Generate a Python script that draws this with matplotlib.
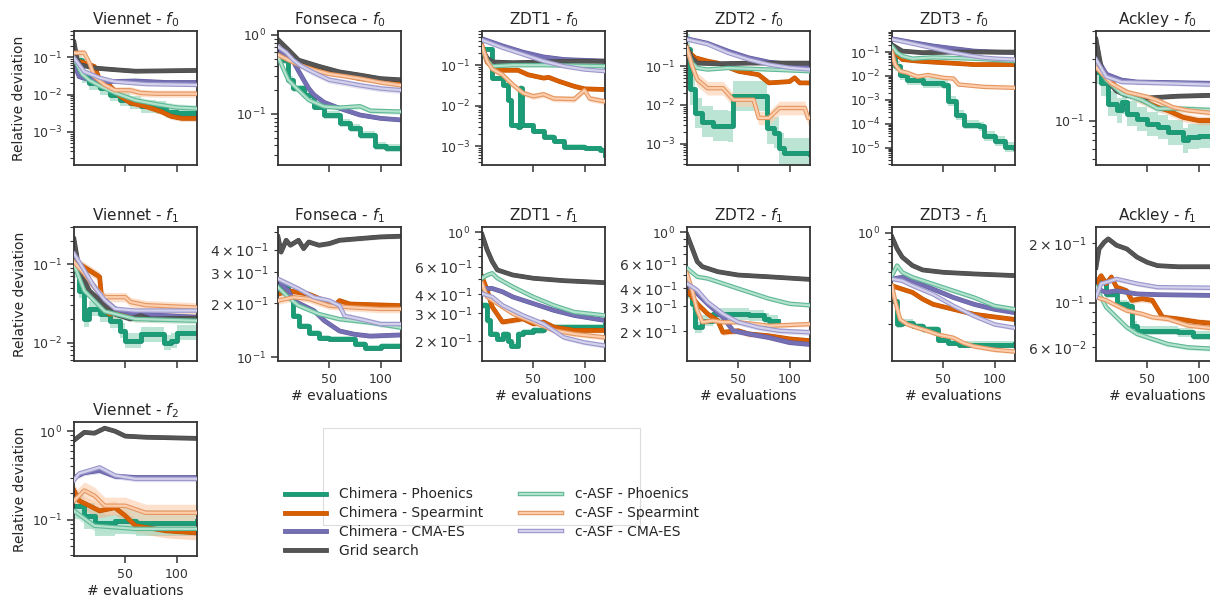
import matplotlib
matplotlib.use('Agg')
import matplotlib.pyplot as plt
import matplotlib.patheffects as pe
from matplotlib.patches import Rectangle

plt.rcParams['font.family'] = ['DejaVu Sans']
plt.rcParams['axes.edgecolor'] = '#333333'
plt.rcParams['axes.linewidth'] = 1.3
plt.rcParams['xtick.color'] = '#333333'
plt.rcParams['ytick.color'] = '#333333'
plt.rcParams['text.color'] = '#262626'
plt.rcParams['axes.labelcolor'] = '#262626'

# ---------------- data (best-so-far relative deviation vs evaluations) ----------------
keys = ['cp', 'cs', 'cc', 'gs', 'ap', 'as', 'ac']
labels = ['Chimera - Phoenics', 'Chimera - Spearmint', 'Chimera - CMA-ES', 'Grid search',
          'c-ASF - Phoenics', 'c-ASF - Spearmint', 'c-ASF - CMA-ES']

viennet_f0 = {
    'cp': ([0, 8, 15, 25, 35, 45, 55, 65, 80, 90, 100, 120], [0.085, 0.03, 0.02, 0.015, 0.01, 0.0072, 0.006, 0.0048, 0.0044, 0.0035, 0.0032, 0.0032]),
    'cs': ([0, 10, 20, 25, 35, 45, 55, 70, 85, 95, 105, 120], [0.085, 0.07, 0.056, 0.025, 0.017, 0.009, 0.006, 0.0048, 0.0035, 0.0026, 0.0023, 0.0023]),
    'cc': ([0, 5, 15, 30, 60, 90, 120], [0.07, 0.03, 0.025, 0.022, 0.023, 0.021, 0.021]),
    'gs': ([0, 3, 5, 20, 40, 60, 90, 120], [0.25, 0.09, 0.063, 0.051, 0.046, 0.042, 0.043, 0.044]),
    'ap': ([0, 8, 15, 25, 40, 60, 80, 100, 120], [0.09, 0.035, 0.024, 0.017, 0.011, 0.007, 0.0055, 0.0045, 0.0042]),
    'as': ([0, 10, 15, 20, 30, 40, 55, 65, 80, 120], [0.13, 0.13, 0.07, 0.03, 0.018, 0.013, 0.013, 0.011, 0.0105, 0.0105]),
    'ac': ([0, 10, 25, 40, 70, 120], [0.095, 0.041, 0.028, 0.022, 0.019, 0.018]),
}
fonseca_f0 = {
    'cp': ([0, 5, 10, 15, 25, 35, 45, 60, 70, 80, 95, 105, 120], [0.58, 0.48, 0.27, 0.21, 0.175, 0.124, 0.097, 0.076, 0.066, 0.054, 0.039, 0.037, 0.037]),
    'cs': ([0, 10, 20, 35, 50, 65, 80, 100, 120], [0.7, 0.52, 0.42, 0.37, 0.34, 0.31, 0.28, 0.26, 0.24]),
    'cc': ([0, 8, 15, 20, 25, 30, 35, 45, 60, 80, 100, 120], [0.65, 0.55, 0.46, 0.35, 0.27, 0.21, 0.175, 0.14, 0.118, 0.097, 0.088, 0.084]),
    'gs': ([0, 10, 20, 40, 60, 80, 100, 120], [0.87, 0.65, 0.48, 0.40, 0.34, 0.31, 0.28, 0.27]),
    'ap': ([0, 10, 20, 30, 45, 60, 80, 90, 120], [0.53, 0.27, 0.2, 0.15, 0.124, 0.12, 0.125, 0.11, 0.107]),
    'as': ([0, 10, 20, 35, 50, 65, 80, 100, 120], [0.56, 0.48, 0.42, 0.36, 0.32, 0.3, 0.28, 0.25, 0.23]),
    'ac': ([0, 8, 15, 22, 30, 40, 50, 65, 80, 100, 120], [0.71, 0.6, 0.48, 0.41, 0.36, 0.31, 0.27, 0.25, 0.23, 0.21, 0.2]),
}
zdt1_f0 = {
    'cp': ([0, 10, 20, 25, 28, 35, 37, 39, 50, 60, 70, 80, 100, 115, 120], [0.25, 0.048, 0.033, 0.014, 0.0033, 0.003, 0.028, 0.0033, 0.0023, 0.0017, 0.0013, 0.00096, 0.00088, 0.0008, 0.0006]),
    'cs': ([0, 5, 10, 20, 35, 45, 60, 65, 75, 90, 100, 120], [0.3, 0.12, 0.09, 0.075, 0.075, 0.058, 0.048, 0.05, 0.04, 0.03, 0.026, 0.025]),
    'cc': ([0, 20, 40, 60, 80, 120], [0.45, 0.30, 0.21, 0.16, 0.138, 0.126]),
    'gs': ([0, 5, 10, 30, 60, 90, 120], [0.25, 0.15, 0.12, 0.115, 0.12, 0.125, 0.125]),
    'ap': ([0, 5, 10, 30, 60, 90, 120], [0.25, 0.13, 0.094, 0.1, 0.1, 0.097, 0.094]),
    'as': ([0, 5, 10, 20, 30, 40, 50, 60, 70, 90, 100, 105, 120], [0.3, 0.125, 0.08, 0.058, 0.033, 0.0205, 0.017, 0.019, 0.015, 0.0145, 0.024, 0.015, 0.0127]),
    'ac': ([0, 20, 40, 60, 80, 100, 120], [0.42, 0.27, 0.185, 0.126, 0.094, 0.078, 0.071]),
}
zdt2_f0 = {
    'cp': ([0, 3, 8, 15, 25, 40, 45, 60, 75, 78, 85, 90, 95, 120], [0.27, 0.025, 0.0062, 0.0037, 0.0029, 0.0028, 0.017, 0.017, 0.017, 0.0025, 0.0019, 0.00076, 0.00056, 0.00055]),
    'cs': ([0, 8, 20, 30, 50, 70, 80, 100, 105, 110, 120], [0.25, 0.165, 0.135, 0.12, 0.074, 0.06, 0.037, 0.04, 0.05, 0.037, 0.037]),
    'cc': ([0, 20, 40, 60, 80, 120], [0.51, 0.39, 0.245, 0.165, 0.127, 0.1]),
    'gs': ([0, 5, 10, 30, 60, 120], [0.3, 0.16, 0.12, 0.115, 0.12, 0.12]),
    'ap': ([0, 5, 10, 20, 40, 80, 120], [0.27, 0.12, 0.09, 0.082, 0.09, 0.082, 0.074]),
    'as': ([0, 5, 10, 20, 35, 45, 65, 70, 80, 90, 115, 118, 120], [0.3, 0.1, 0.045, 0.027, 0.027, 0.0136, 0.0136, 0.0046, 0.0046, 0.0083, 0.0083, 0.0046, 0.0046]),
    'ac': ([0, 20, 40, 60, 80, 100, 120], [0.49, 0.37, 0.22, 0.149, 0.11, 0.091, 0.082]),
}
zdt3_f0 = {
    'cp': ([0, 3, 8, 15, 30, 50, 55, 62, 70, 85, 90, 100, 110, 120], [0.1, 0.026, 0.0105, 0.007, 0.0052, 0.0044, 0.00089, 0.00024, 0.000093, 0.000078, 0.00003, 0.000019, 0.000011, 0.00001]),
    'cs': ([0, 10, 25, 40, 60, 80, 100, 120], [0.13, 0.049, 0.042, 0.038, 0.034, 0.03, 0.03, 0.03]),
    'cc': ([0, 20, 40, 60, 80, 100, 120], [0.36, 0.25, 0.18, 0.14, 0.11, 0.1, 0.094]),
    'gs': ([0, 10, 30, 60, 120], [0.2, 0.11, 0.094, 0.1, 0.1]),
    'ap': ([0, 5, 10, 20, 40, 80, 120], [0.17, 0.094, 0.068, 0.053, 0.06, 0.053, 0.042]),
    'as': ([0, 3, 8, 15, 25, 35, 50, 60, 65, 90, 120], [0.1, 0.03, 0.016, 0.0136, 0.0093, 0.011, 0.0084, 0.0078, 0.0044, 0.0035, 0.0032]),
    'ac': ([0, 15, 30, 45, 60, 75, 90, 105, 120], [0.34, 0.25, 0.18, 0.13, 0.094, 0.072, 0.058, 0.052, 0.049]),
}
ackley_f0 = {
    'cp': ([0, 5, 12, 20, 25, 30, 40, 50, 60, 70, 80, 85, 90, 100, 120], [0.24, 0.195, 0.135, 0.12, 0.14, 0.113, 0.103, 0.094, 0.089, 0.081, 0.081, 0.07, 0.075, 0.076, 0.085]),
    'cs': ([0, 10, 20, 35, 45, 60, 70, 85, 100, 120], [0.28, 0.23, 0.18, 0.157, 0.144, 0.127, 0.12, 0.106, 0.1, 0.1]),
    'cc': ([0, 10, 25, 40, 120], [0.316, 0.23, 0.207, 0.2, 0.195]),
    'gs': ([0, 5, 10, 20, 30, 50, 80, 120], [0.43, 0.26, 0.21, 0.17, 0.157, 0.15, 0.155, 0.158]),
    'ap': ([0, 10, 25, 45, 60, 80, 120], [0.28, 0.207, 0.163, 0.144, 0.124, 0.124, 0.12]),
    'as': ([0, 15, 30, 50, 60, 75, 90, 120], [0.26, 0.195, 0.167, 0.153, 0.144, 0.127, 0.12, 0.113]),
    'ac': ([0, 10, 25, 120], [0.3, 0.22, 0.2, 0.19]),
}
viennet_f1 = {
    'cp': ([0, 5, 10, 15, 25, 35, 45, 50, 65, 80, 88, 95, 100, 120], [0.084, 0.046, 0.02, 0.027, 0.023, 0.019, 0.0141, 0.0105, 0.0128, 0.0128, 0.01, 0.0105, 0.0134, 0.0134]),
    'cs': ([0, 10, 20, 25, 28, 35, 45, 60, 120], [0.113, 0.092, 0.076, 0.069, 0.027, 0.023, 0.0244, 0.021, 0.021]),
    'cc': ([0, 15, 30, 40, 60, 90, 120], [0.124, 0.062, 0.035, 0.027, 0.023, 0.022, 0.021]),
    'gs': ([0, 5, 15, 30, 40, 55, 65, 75, 120], [0.21, 0.084, 0.046, 0.03, 0.023, 0.02, 0.022, 0.02, 0.0205]),
    'ap': ([0, 10, 30, 60, 120], [0.1, 0.046, 0.025, 0.02, 0.019]),
    'as': ([0, 10, 20, 30, 50, 55, 70, 120], [0.107, 0.076, 0.051, 0.038, 0.038, 0.033, 0.03, 0.028]),
    'ac': ([0, 10, 20, 30, 40, 60, 120], [0.137, 0.084, 0.051, 0.035, 0.027, 0.0256, 0.0256]),
}
fonseca_f1 = {
    'cp': ([0, 10, 15, 20, 30, 40, 50, 70, 75, 85, 100, 120], [0.246, 0.216, 0.17, 0.149, 0.137, 0.128, 0.126, 0.126, 0.118, 0.113, 0.115, 0.116]),
    'cs': ([0, 10, 20, 30, 45, 55, 60, 70, 120], [0.225, 0.235, 0.23, 0.225, 0.207, 0.194, 0.207, 0.198, 0.194]),
    'cc': ([0, 10, 15, 25, 35, 45, 60, 75, 90, 120], [0.268, 0.235, 0.207, 0.194, 0.182, 0.16, 0.14, 0.134, 0.131, 0.133]),
    'gs': ([0, 3, 8, 12, 20, 25, 30, 40, 50, 60, 80, 100, 120], [0.471, 0.387, 0.451, 0.423, 0.451, 0.405, 0.441, 0.423, 0.432, 0.451, 0.461, 0.471, 0.475]),
    'ap': ([0, 10, 20, 40, 60, 90, 120], [0.246, 0.216, 0.194, 0.174, 0.163, 0.156, 0.146]),
    'as': ([0, 15, 30, 50, 70, 100, 120], [0.207, 0.216, 0.212, 0.194, 0.19, 0.186, 0.186]),
    'ac': ([0, 10, 20, 35, 50, 60, 65, 80, 100, 120], [0.274, 0.257, 0.241, 0.216, 0.207, 0.194, 0.17, 0.163, 0.153, 0.153]),
}
zdt1_f1 = {
    'cp': ([0, 5, 8, 15, 20, 25, 28, 35, 40, 50, 60, 80, 120], [0.338, 0.27, 0.221, 0.205, 0.221, 0.2, 0.186, 0.221, 0.227, 0.233, 0.245, 0.245, 0.251]),
    'cs': ([0, 5, 10, 20, 30, 40, 50, 60, 70, 90, 120], [0.517, 0.424, 0.33, 0.264, 0.27, 0.277, 0.257, 0.264, 0.245, 0.233, 0.233]),
    'cc': ([0, 10, 20, 30, 50, 70, 90, 120], [0.434, 0.434, 0.413, 0.383, 0.347, 0.314, 0.291, 0.27]),
    'gs': ([0, 5, 10, 15, 30, 50, 80, 120], [0.966, 0.77, 0.647, 0.571, 0.53, 0.505, 0.487, 0.473]),
    'ap': ([0, 5, 10, 15, 30, 50, 70, 90, 120], [0.505, 0.53, 0.544, 0.505, 0.445, 0.383, 0.338, 0.306, 0.291]),
    'as': ([0, 5, 15, 30, 50, 70, 90, 120], [0.468, 0.383, 0.347, 0.299, 0.264, 0.233, 0.221, 0.21]),
    'ac': ([0, 10, 20, 40, 60, 80, 100, 120], [0.403, 0.383, 0.338, 0.291, 0.257, 0.21, 0.195, 0.186]),
}
zdt2_f1 = {
    'cp': ([0, 5, 8, 15, 25, 40, 60, 75, 80, 89], [0.367, 0.311, 0.211, 0.236, 0.264, 0.264, 0.257, 0.243, 0.236, 0.236]),
    'cs': ([0, 10, 20, 30, 35, 50, 60, 80, 100, 120], [0.388, 0.311, 0.264, 0.236, 0.195, 0.2, 0.19, 0.184, 0.175, 0.17]),
    'cc': ([0, 10, 20, 35, 45, 60, 80, 100, 120], [0.421, 0.367, 0.311, 0.25, 0.2, 0.19, 0.179, 0.165, 0.16]),
    'gs': ([0, 5, 10, 15, 30, 50, 80, 120], [0.962, 0.772, 0.619, 0.57, 0.525, 0.497, 0.483, 0.463]),
    'ap': ([0, 10, 20, 40, 60, 80, 100, 120], [0.555, 0.483, 0.47, 0.421, 0.377, 0.338, 0.311, 0.303]),
    'as': ([0, 5, 10, 15, 25, 35, 50, 80, 120], [0.51, 0.388, 0.279, 0.23, 0.236, 0.23, 0.23, 0.217, 0.223]),
    'ac': ([0, 10, 20, 35, 50, 70, 90, 120], [0.433, 0.388, 0.32, 0.264, 0.23, 0.211, 0.2, 0.195]),
}
zdt3_f1 = {
    'cp': ([0, 5, 10, 20, 30, 40, 45, 55, 65, 120], [0.303, 0.2, 0.206, 0.194, 0.183, 0.183, 0.153, 0.144, 0.14, 0.142]),
    'cs': ([0, 10, 20, 30, 40, 60, 80, 100, 120], [0.395, 0.372, 0.351, 0.312, 0.285, 0.261, 0.239, 0.228, 0.218]),
    'cc': ([0, 10, 20, 40, 60, 80, 100, 120], [0.445, 0.458, 0.431, 0.372, 0.321, 0.285, 0.261, 0.246]),
    'gs': ([0, 5, 10, 20, 30, 50, 80, 120], [0.93, 0.757, 0.653, 0.563, 0.521, 0.5, 0.486, 0.472]),
    'ap': ([0, 5, 10, 20, 40, 60, 80, 100, 120], [0.472, 0.563, 0.5, 0.458, 0.407, 0.361, 0.321, 0.277, 0.261]),
    'as': ([0, 3, 8, 15, 25, 35, 45, 60, 70, 80, 100, 120], [0.395, 0.303, 0.218, 0.2, 0.188, 0.178, 0.167, 0.158, 0.144, 0.136, 0.128, 0.124]),
    'ac': ([0, 10, 20, 40, 60, 80, 100, 120], [0.445, 0.431, 0.395, 0.34, 0.277, 0.232, 0.2, 0.188]),
}
ackley_f1 = {
    'cp': ([0, 10, 20, 30, 35, 40, 60, 80, 95, 120], [0.127, 0.111, 0.0988, 0.097, 0.0769, 0.0726, 0.0726, 0.0711, 0.0684, 0.0671]),
    'cs': ([0, 5, 10, 15, 20, 30, 35, 45, 55, 65, 80, 100, 120], [0.125, 0.137, 0.125, 0.135, 0.12, 0.115, 0.103, 0.105, 0.103, 0.0847, 0.083, 0.08, 0.0784]),
    'cc': ([0, 10, 20, 40, 60, 120], [0.118, 0.113, 0.115, 0.111, 0.110, 0.109]),
    'gs': ([0, 3, 8, 12, 20, 30, 40, 50, 60, 80, 120], [0.151, 0.187, 0.202, 0.21, 0.195, 0.187, 0.17, 0.16, 0.154, 0.152, 0.152]),
    'ap': ([0, 10, 20, 30, 40, 55, 70, 90, 120], [0.12, 0.095, 0.0847, 0.0754, 0.0698, 0.0658, 0.0621, 0.0597, 0.0586]),
    'as': ([0, 10, 20, 30, 45, 55, 70, 90, 120], [0.107, 0.103, 0.097, 0.0915, 0.088, 0.0847, 0.083, 0.0769, 0.074]),
    'ac': ([0, 5, 10, 20, 40, 60, 120], [0.107, 0.125, 0.127, 0.132, 0.125, 0.12, 0.119]),
}
viennet_f2 = {
    'cp': ([0, 10, 20, 40, 60, 120], [0.144, 0.111, 0.092, 0.0975, 0.092, 0.0975]),
    'cs': ([0, 5, 15, 25, 40, 50, 60, 90, 120], [0.214, 0.164, 0.144, 0.126, 0.137, 0.111, 0.0855, 0.075, 0.071]),
    'cc': ([0, 10, 25, 40, 60, 120], [0.3, 0.34, 0.36, 0.31, 0.3, 0.3]),
    'gs': ([0, 10, 20, 30, 40, 50, 70, 120], [0.79, 0.97, 0.95, 1.08, 1.0, 0.88, 0.855, 0.83]),
    'ap': ([0, 20, 60, 120], [0.126, 0.0855, 0.079, 0.079]),
    'as': ([0, 10, 20, 30, 50, 70, 120], [0.164, 0.214, 0.187, 0.144, 0.144, 0.12, 0.12]),
    'ac': ([0, 5, 15, 25, 40, 60, 120], [0.28, 0.333, 0.36, 0.39, 0.316, 0.29, 0.29]),
}

# spread of the shaded band (multiplicative), order: cp, cs, cc, gs, ap, as, ac
spreads = {
    'viennet_f0': [1.5, 1.2, 1.12, 1.06, 1.25, 1.25, 1.1],
    'fonseca_f0': [1.12, 1.08, 1.06, 1.05, 1.08, 1.06, 1.1],
    'zdt1_f0': [1.15, 1.12, 1.05, 1.05, 1.08, 1.2, 1.05],
    'zdt2_f0': [2.5, 1.1, 1.05, 1.05, 1.08, 1.5, 1.08],
    'zdt3_f0': [1.6, 1.1, 1.05, 1.05, 1.08, 1.12, 1.05],
    'ackley_f0': [1.25, 1.08, 1.03, 1.04, 1.06, 1.05, 1.04],
    'viennet_f1': [1.25, 1.15, 1.1, 1.08, 1.1, 1.15, 1.06],
    'fonseca_f1': [1.04, 1.04, 1.03, 1.03, 1.03, 1.05, 1.04],
    'zdt1_f1': [1.05, 1.04, 1.03, 1.02, 1.03, 1.04, 1.04],
    'zdt2_f1': [1.1, 1.05, 1.04, 1.02, 1.03, 1.04, 1.05],
    'zdt3_f1': [1.06, 1.04, 1.04, 1.02, 1.04, 1.04, 1.04],
    'ackley_f1': [1.05, 1.04, 1.02, 1.02, 1.03, 1.03, 1.03],
    'viennet_f2': [1.4, 1.2, 1.08, 1.05, 1.15, 1.25, 1.08],
}

# title, row, col, data, ylim, spread key
panels = [
    ('Viennet - $f_0$', 0, 0, viennet_f0, (1.3e-4, 0.5), 'viennet_f0'),
    ('Fonseca - $f_0$', 0, 1, fonseca_f0, (0.0226, 1.12), 'fonseca_f0'),
    ('ZDT1 - $f_0$', 0, 2, zdt1_f0, (3.4e-4, 0.70), 'zdt1_f0'),
    ('ZDT2 - $f_0$', 0, 3, zdt2_f0, (2.8e-4, 0.81), 'zdt2_f0'),
    ('ZDT3 - $f_0$', 0, 4, zdt3_f0, (1.9e-6, 0.76), 'zdt3_f0'),
    ('Ackley - $f_0$', 0, 5, ackley_f0, (0.045, 0.5), 'ackley_f0'),
    ('Viennet - $f_1$', 1, 0, viennet_f1, (0.0058, 0.30), 'viennet_f1'),
    ('Fonseca - $f_1$', 1, 1, fonseca_f1, (0.095, 0.535), 'fonseca_f1'),
    ('ZDT1 - $f_1$', 1, 2, zdt1_f1, (0.148, 1.08), 'zdt1_f1'),
    ('ZDT2 - $f_1$', 1, 3, zdt2_f1, (0.122, 1.09), 'zdt2_f1'),
    ('ZDT3 - $f_1$', 1, 4, zdt3_f1, (0.105, 1.11), 'zdt3_f1'),
    ('Ackley - $f_1$', 1, 5, ackley_f1, (0.051, 0.241), 'ackley_f1'),
    ('Viennet - $f_2$', 2, 0, viennet_f2, (0.039, 1.27), 'viennet_f2'),
]

# ---------------- styles ----------------
line_col = {'cp': '#1b9e77', 'cs': '#d95f02', 'cc': '#7570b3', 'gs': '#555555',
            'ap': '#b3e2cd', 'as': '#fdcdac', 'ac': '#d3d1ec'}
edge_col = {'cp': '#16876a', 'cs': '#bb5202', 'cc': '#615ca0', 'gs': '#444444',
            'ap': '#5fb896', 'as': '#e39763', 'ac': '#9b97cb'}
band_col = {'cp': '#8fd3b9', 'cs': '#f0ae82', 'cc': '#b5b2da', 'gs': '#9a9a9a',
            'ap': '#b3e2cd', 'as': '#fdcdac', 'ac': '#cfcde9'}
band_alpha = {'cp': 0.6, 'cs': 0.45, 'cc': 0.45, 'gs': 0.4, 'ap': 0.6, 'as': 0.6, 'ac': 0.6}
stepped = {'cp': True, 'cs': False, 'cc': False, 'gs': False, 'ap': False, 'as': False, 'ac': False}

W, H = 1210, 598
col_left = [74, 278, 482, 687, 892, 1096]
row_top = [31, 227, 422]
ax_w, ax_h = 123, 134

fig = plt.figure(figsize=(W / 100, H / 100), dpi=100)
handles = {}

for title, r, c, data, ylim, skey in panels:
    ax = fig.add_axes([col_left[c] / W, 1 - (row_top[r] + ax_h) / H, ax_w / W, ax_h / H])
    for i, k in enumerate(keys):
        xs, ys = data[k]
        s = spreads[skey][i]
        lo = [v / s for v in ys]
        hi = [v * s for v in ys]
        ax.fill_between(xs, lo, hi, step='post' if stepped[k] else None,
                        color=band_col[k], alpha=band_alpha[k], lw=0, zorder=1 + i * 0.1)
        ds = 'steps-post' if stepped[k] else 'default'
        if k in ('ap', 'as', 'ac'):
            ln, = ax.plot(xs, ys, drawstyle=ds, color=line_col[k], lw=1.6, zorder=3 + i * 0.1,
                          path_effects=[pe.Stroke(linewidth=3.2, foreground=edge_col[k]), pe.Normal()])
        else:
            ln, = ax.plot(xs, ys, drawstyle=ds, color=line_col[k], lw=2.7, zorder=2 + i * 0.1,
                          path_effects=[pe.Stroke(linewidth=3.4, foreground=edge_col[k]), pe.Normal()])
        handles[k] = ln
    ax.set_yscale('log')
    ax.set_ylim(*ylim)
    ax.set_xlim(0, 120)
    ax.set_xticks([50, 100])
    ax.tick_params(axis='both', labelsize=9, direction='out')
    ax.tick_params(axis='both', which='major', length=5, width=1.1)
    ax.tick_params(axis='y', which='minor', length=3, width=0.8)
    ax.set_title(title, fontsize=11, pad=5)
    show_x = (r == 1 and c > 0) or r == 2
    if show_x:
        ax.set_xlabel('# evaluations', fontsize=10, labelpad=2)
    else:
        ax.tick_params(axis='x', labelbottom=False)
    if c == 0:
        ax.set_ylabel('Relative deviation', fontsize=10)

# legend and its (offset) frame
fig.add_artist(Rectangle((323 / W, 1 - 525 / H), 317 / W, 97 / H, transform=fig.transFigure,
                         fill=False, edgecolor='#dcdcdc', lw=0.8))
fig.legend([handles[k] for k in keys], labels, loc='upper left',
           bbox_to_anchor=(272 / W, 1 - 475 / H), ncol=2, frameon=False, fontsize=10,
           handlelength=3.0, handletextpad=0.9, labelspacing=0.35, columnspacing=2.7)

plt.savefig('out.png', dpi=100)
